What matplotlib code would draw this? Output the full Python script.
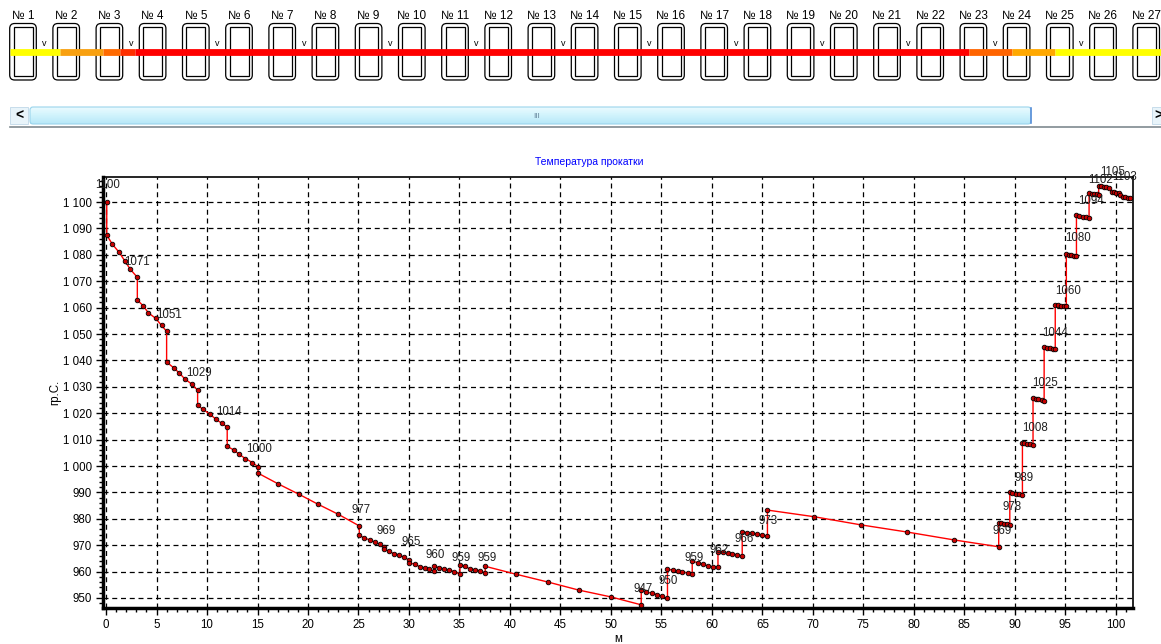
import numpy as np
import matplotlib.pyplot as plt
from matplotlib.patches import FancyBboxPatch, Rectangle
from matplotlib.colors import LinearSegmentedColormap
from matplotlib.ticker import MultipleLocator, FuncFormatter

plt.rcParams['font.family'] = ['Liberation Sans', 'DejaVu Sans']

# ---- данные: расстояние (м) и температура (гр.С.) ----
dist = [
    0.07, 0.07, 0.63, 1.29, 1.88, 2.41, 3.1,
    3.1, 3.7, 4.2, 4.9, 5.5, 6.0,
    6.0, 6.7, 7.26, 7.8, 8.5, 9.07,
    9.07, 9.6, 10.3, 10.86, 11.45, 12.0,
    12.0, 12.67, 13.2, 13.8, 14.5, 15.05,
    15.05, 17.06, 19.1, 21.0, 23.0, 25.08,
    25.08, 25.5, 26.1, 26.6, 27.1, 27.55,
    27.55, 28.0, 28.5, 29.0, 29.5, 30.0,
    30.0, 30.55, 31.05, 31.55, 32.0, 32.5,
    32.5, 33.0, 33.5, 34.0, 34.5, 35.05,
    35.05, 35.5, 36.0, 36.5, 37.0, 37.55,
    37.55, 40.6, 43.8, 46.8, 50.0, 53.0,
    53.0, 53.5, 54.05, 54.6, 55.05, 55.6,
    55.6, 56.1, 56.6, 57.05, 57.6, 58.05,
    58.05, 58.6, 59.1, 59.6, 60.1, 60.6,
    60.6, 61.05, 61.55, 62.0, 62.5, 63.0,
    63.0, 63.5, 64.0, 64.5, 65.0, 65.5,
    65.5, 70.1, 74.75, 79.3, 83.96, 88.4,
    88.4, 88.6, 88.9, 89.2, 89.5,
    89.5, 89.75, 90.1, 90.4, 90.75,
    90.75, 90.95, 91.2, 91.5, 91.8,
    91.8, 92.05, 92.3, 92.65, 92.9,
    92.9, 93.15, 93.5, 93.8, 94.0,
    94.0, 94.3, 94.6, 94.85, 95.1,
    95.1, 95.35, 95.6, 95.9, 96.1,
    96.1, 96.4, 96.7, 97.0, 97.35,
    97.35, 97.6, 97.85, 98.1, 98.3,
    98.3, 98.55, 98.8, 99.05, 99.3,
    99.6, 99.8, 100.05, 100.3,
    100.45, 100.7, 100.95, 101.2, 101.45,
]
temp = [
    1100, 1087.5, 1084, 1081, 1077.6, 1074.5, 1071.5,
    1062.9, 1060.6, 1058, 1056, 1053.3, 1051,
    1039.4, 1037.2, 1035.2, 1033, 1031, 1028.7,
    1023, 1021.5, 1019.6, 1017.8, 1016.2, 1014.8,
    1007.5, 1006, 1004.4, 1002.8, 1001.3, 999.7,
    997.3, 993.2, 989.3, 985.5, 981.7, 977.3,
    973.7, 972.9, 972.0, 971.2, 970.3, 969.4,
    968.6, 967.7, 966.8, 966.3, 965.4, 964.4,
    963.4, 962.8, 961.9, 961.4, 960.9, 960.1,
    962.0, 961.5, 960.8, 960.5, 960.0, 959.0,
    962.6, 962.0, 961.1, 960.7, 960.3, 959.5,
    962.0, 959.0, 956.0, 953.0, 950.4, 947.4,
    953.0, 952.3, 951.8, 951.3, 950.6, 949.8,
    960.9, 960.6, 960.3, 960.0, 959.4, 959.0,
    963.9, 963.4, 962.8, 962.2, 961.8, 961.8,
    967.5, 967.4, 967.0, 966.7, 966.4, 965.9,
    975.1, 974.7, 974.5, 974.1, 973.7, 973.5,
    983.3, 980.8, 977.7, 975.0, 972.0, 969.4,
    978.5, 978.5, 978.2, 978.0, 977.8,
    990.0, 989.9, 989.5, 989.3, 989.0,
    1008.8, 1008.6, 1008.3, 1008.2, 1008.0,
    1025.6, 1025.4, 1025.3, 1025.0, 1024.7,
    1045.0, 1044.8, 1044.6, 1044.4, 1044.4,
    1061.0, 1060.9, 1060.7, 1060.6, 1060.5,
    1080.3, 1080.0, 1079.9, 1079.7, 1079.5,
    1095.0, 1094.7, 1094.4, 1094.3, 1094.0,
    1103.3, 1103.1, 1103.0, 1103.0, 1102.8,
    1106.0, 1106.0, 1105.8, 1105.7, 1105.4,
    1103.9, 1103.7, 1103.5, 1103.3,
    1102.7, 1102.0, 1101.8, 1101.6, 1101.6,
]

# подписи температур у клетей
label_x = [0.2, 3.1, 6.2, 9.2, 12.2, 15.2, 25.3, 27.7, 30.2, 32.6, 35.2, 37.7,
           53.2, 55.7, 58.2, 60.7, 63.2, 65.6, 88.7, 89.7, 90.9, 92.0, 93.0,
           94.0, 95.3, 96.3, 97.5, 98.5, 99.7, 100.9]
label_t = [1100, 1071, 1051, 1029, 1014, 1000, 977, 969, 965, 960, 959, 959,
           947, 950, 959, 962, 966, 973, 969, 978, 989, 1008, 1025,
           1044, 1060, 1080, 1094, 1102, 1105, 1103]

# клети и цвет полосы (по клетям)
stands = list(range(1, 28))
strip_edges = [0.7, 1.85, 2.85, 3.25, 3.6, 22.9, 23.9, 24.9, 27.4]
strip_colors = ['#FFFF00', '#F8A010', '#FF6A00', '#FF3000', '#FF0000',
                '#FF6400', '#FFA800', '#FFFF00']

W, H = 1161, 644
fig = plt.figure(figsize=(W / 100, H / 100), dpi=100)

# ---- верхняя панель с клетями (пиксельные координаты) ----
ui = fig.add_axes([0, 0, 1, 1])
ui.set_xlim(0, W)
ui.set_ylim(H, 0)
ui.axis('off')

step = 43.2
x0 = 23
for n in stands:
    cx = x0 + (n - 1) * step
    ui.add_patch(FancyBboxPatch((cx - 13.3, 23.5), 26.6, 56.5,
                                boxstyle="round,pad=0,rounding_size=5",
                                fc='white', ec='black', lw=0.9))
    ui.add_patch(Rectangle((cx - 9.5, 26.7), 19, 49.5, fc='none', ec='black', lw=0.9))
    ui.text(cx, 16, f"№ {n}", ha='center', va='center', fontsize=8.5)
    if n % 2 == 1:
        ui.text(cx + step / 2, 43, "v", ha='center', va='center', fontsize=6.5)

for i, c in enumerate(strip_colors):
    a = x0 + (strip_edges[i] - 1) * step
    b = x0 + (strip_edges[i + 1] - 1) * step
    ui.plot([max(a, 10), b], [51.5, 51.5], color=c, lw=4.9, solid_capstyle='butt')

# полоса прокрутки
grad = np.linspace(0, 1, 20).reshape(-1, 1)
sb_cmap = LinearSegmentedColormap.from_list('sb', ['#EAFBFF', '#CFF3FC', '#B8E8F8'])
ui.imshow(grad, extent=(30, 1031, 124, 107), cmap=sb_cmap, aspect='auto', zorder=1)
ui.add_patch(FancyBboxPatch((30, 107), 1001, 17, boxstyle="round,pad=0,rounding_size=3",
                            fc='none', ec='#9AD4EC', lw=0.8, zorder=2))
ui.plot([1031, 1031], [108, 123], color='#5A8FD8', lw=1.2, zorder=3)
ui.add_patch(Rectangle((10, 107), 18, 17, fc='#E8F4FA', ec='#C0D8E8', lw=0.6, zorder=2))
ui.text(19, 115.5, "<", ha='center', va='center', fontsize=10, fontweight='bold', zorder=3)
ui.add_patch(Rectangle((1152, 107), 12, 17, fc='#E8F4FA', ec='#C0D8E8', lw=0.6, zorder=2))
ui.text(1158, 115.5, ">", ha='center', va='center', fontsize=10, fontweight='bold', zorder=3)
ui.text(537, 116, "III", ha='center', va='center', fontsize=6, color='#6A8AA0', zorder=3)
ui.plot([10, W], [126.5, 126.5], color='#7F8A90', lw=1.2)

# ---- график температуры ----
ax = fig.add_axes([103 / W, 1 - 608 / H, (1133 - 103) / W, (608 - 177) / H])
ax.plot(dist, temp, color='#FF0000', lw=1.0, zorder=3)
ax.scatter(dist, temp, s=11, c='#C80000', edgecolors='black', linewidths=0.6, zorder=4)

for lx, lt in zip(label_x, label_t):
    ax.annotate(str(lt), (lx, lt), xytext=(0, 12), textcoords='offset points',
                ha='center', va='center', fontsize=8.3, color='#202020', zorder=5)

ax.set_xlim(-0.3, 101.7)
ax.set_ylim(946.2, 1109.5)
ax.xaxis.set_major_locator(MultipleLocator(5))
ax.xaxis.set_minor_locator(MultipleLocator(1))
ax.yaxis.set_major_locator(MultipleLocator(10))
ax.yaxis.set_minor_locator(MultipleLocator(2))
ax.yaxis.set_major_formatter(FuncFormatter(lambda v, p: f"{int(round(v)):,}".replace(",", " ")))
ax.tick_params(which='major', direction='out', length=5, width=1, labelsize=8.3, pad=3)
ax.tick_params(which='minor', direction='out', length=3, width=1)
ax.grid(True, which='major', color='black', linestyle=(0, (4, 3)), lw=0.9)
for s in ['left', 'bottom']:
    ax.spines[s].set_linewidth(2.5)
for s in ['top', 'right']:
    ax.spines[s].set_linewidth(1.2)

ax.set_ylabel("гр.С.", fontsize=8.3, labelpad=1)
ax.set_xlabel("м", fontsize=8.3, labelpad=1)
fig.text(589 / W, 1 - 162 / H, "Температура прокатки", ha='center', va='center',
         fontsize=7.5, color='#0000FF')

fig.savefig("out.png", dpi=100)
